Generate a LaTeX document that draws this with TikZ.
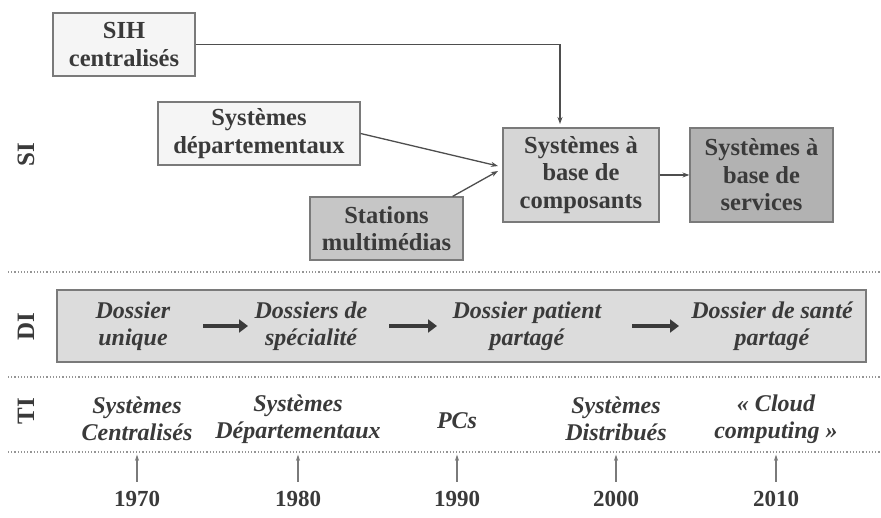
\documentclass[tikz,border=0pt]{standalone}
\usepackage{fontspec}
\setmainfont{Liberation Serif}
\usetikzlibrary{arrows.meta}
\definecolor{txt}{HTML}{3A3A3A}
\definecolor{edge}{HTML}{7A7A7A}
\definecolor{fpale}{HTML}{F5F5F5}
\definecolor{fmid}{HTML}{D6D6D6}
\definecolor{fdark}{HTML}{C6C6C6}
\definecolor{fdarker}{HTML}{B2B2B2}
\definecolor{fband}{HTML}{DCDCDC}
\begin{document}
\begin{tikzpicture}[x=1pt,y=-1pt,
  box/.style={draw=edge,line width=1.2pt,text=txt,align=center,inner sep=0pt,
    font=\fontsize{24.5}{27.5}\selectfont\bfseries},
  conn/.style={draw=txt!90,line width=1.3pt,-{Stealth[length=7pt,width=5pt]}},
  fat/.style={draw=txt,line width=4pt,-{Triangle[length=9pt,width=13pt]}},
  sep/.style={draw=edge!80,line width=1.2pt,dotted},
  side/.style={rotate=90,text=txt,font=\fontsize{25}{25}\selectfont\bfseries},
  di/.style={text=txt,align=center,font=\fontsize{24}{27}\selectfont\bfseries\itshape},
  yr/.style={text=txt,font=\fontsize{23}{23}\selectfont\bfseries},
  tick/.style={draw=edge,line width=1.1pt,-{Stealth[length=6pt,width=4pt]}}]
\useasboundingbox[fill=white] (0,0) rectangle (881,518);

% SI row
\node[box,fill=fpale,minimum width=142pt,minimum height=63pt] (sih) at (124,44.5) {SIH\\centralisés};
\node[box,fill=fpale,minimum width=202pt,minimum height=63pt] (dep) at (259,133.5) {Systèmes\\départementaux};
\node[box,fill=fdark,minimum width=153pt,minimum height=63pt] (sta) at (386.5,228.5) {Stations\\multimédias};
\node[box,fill=fmid,minimum width=156pt,minimum height=94pt] (comp) at (581,175) {Systèmes à\\base de\\composants};
\node[box,fill=fdarker,minimum width=143pt,minimum height=94pt] (serv) at (761.5,175) {Systèmes à\\base de\\services};
\node[side] (si) at (26,155) {SI};

\coordinate (ctop) at (560,124);
\coordinate (m1) at (498,166);
\coordinate (m2) at (498,171);
\draw[conn] (sih.east) -| (ctop);
\draw[conn] (dep.east) -- (m1);
\draw[conn] ([xshift=-11pt]sta.north east) -- (m2);
\draw[conn] (comp.east) -- (serv.west);

% separators
\coordinate (s1a) at (8,272); \coordinate (s1b) at (881,272);
\coordinate (s2a) at (8,377); \coordinate (s2b) at (881,377);
\coordinate (s3a) at (8,452); \coordinate (s3b) at (881,452);
\draw[sep] (s1a) -- (s1b);
\draw[sep] (s2a) -- (s2b);
\draw[sep] (s3a) -- (s3b);

% DI row
\node[draw=edge,line width=1.2pt,fill=fband,minimum width=809pt,minimum height=72pt,inner sep=0pt] (band) at (461.5,326) {};
\node[side] (dil) at (26,327) {DI};
\node[di] (d1) at (133,326) {Dossier\\unique};
\node[di] (d2) at (311,326) {Dossiers de\\spécialité};
\node[di] (d3) at (527,326) {Dossier patient\\partagé};
\node[di] (d4) at (772,326) {Dossier de santé\\partagé};
\coordinate (a1s) at (203,326); \coordinate (a1e) at (248,326);
\coordinate (a2s) at (389,326); \coordinate (a2e) at (437,326);
\coordinate (a3s) at (632,326); \coordinate (a3e) at (679,326);
\draw[fat] (a1s) -- (a1e);
\draw[fat] (a2s) -- (a2e);
\draw[fat] (a3s) -- (a3e);

% TI row
\node[side] (til) at (26,411) {TI};
\node[di] (t1) at (137,419) {Systèmes\\Centralisés};
\node[di] (t2) at (298,419) {Systèmes\\Départementaux};
\node[di] (t3) at (457,421) {PCs};
\node[di] (t4) at (616,419) {Systèmes\\Distribués};
\node[di] (t5) at (776,419) {« Cloud\\computing »};

% years
\node[yr] (y1) at (137,499) {1970};
\node[yr] (y2) at (298,499) {1980};
\node[yr] (y3) at (457,499) {1990};
\node[yr] (y4) at (616,499) {2000};
\node[yr] (y5) at (776,499) {2010};
\foreach \y in {y1,y2,y3,y4,y5}{
  \draw[tick] ([yshift=6pt]\y.north) -- ([yshift=33pt]\y.north);
}
\end{tikzpicture}
\end{document}
